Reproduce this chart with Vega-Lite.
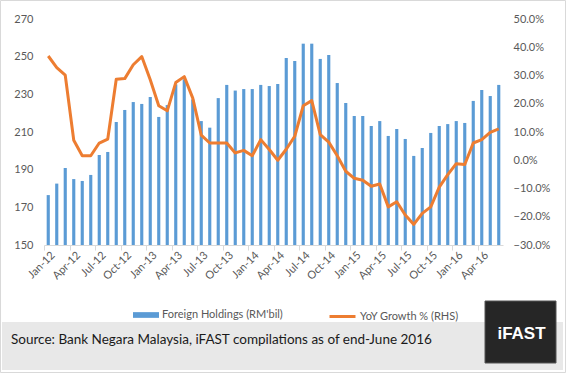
{
  "$schema": "https://vega.github.io/schema/vega-lite/v6.json",
  "width": 459,
  "height": 226,
  "autosize": {"type": "none"},
  "padding": {"left": 44, "top": 19, "right": 63, "bottom": 128},
  "background": "white",
  "config": {
    "view": {"stroke": null},
    "font": "Lato",
    "axis": {"grid": false, "labelColor": "#595959", "labelFontSize": 11, "labelFont": "Lato"},
    "legend": {"labelColor": "#595959", "labelFontSize": 11, "labelFont": "Lato", "padding": 0}
  },
  "datasets": {
    "series": [
      {"month": "Jan-12", "holdings": 176.5, "yoy": 36.9},
      {"month": "Feb-12", "holdings": 182.6, "yoy": 32.8},
      {"month": "Mar-12", "holdings": 190.9, "yoy": 30.1},
      {"month": "Apr-12", "holdings": 185.0, "yoy": 7.1},
      {"month": "May-12", "holdings": 184.0, "yoy": 1.6},
      {"month": "Jun-12", "holdings": 187.2, "yoy": 1.6},
      {"month": "Jul-12", "holdings": 197.8, "yoy": 6.1},
      {"month": "Aug-12", "holdings": 199.4, "yoy": 7.5},
      {"month": "Sep-12", "holdings": 215.3, "yoy": 28.7},
      {"month": "Oct-12", "holdings": 221.7, "yoy": 28.9},
      {"month": "Nov-12", "holdings": 225.9, "yoy": 33.8},
      {"month": "Dec-12", "holdings": 224.9, "yoy": 36.7},
      {"month": "Jan-13", "holdings": 228.6, "yoy": 28.5},
      {"month": "Feb-13", "holdings": 218.0, "yoy": 19.3},
      {"month": "Mar-13", "holdings": 224.3, "yoy": 17.5},
      {"month": "Apr-13", "holdings": 235.3, "yoy": 27.5},
      {"month": "May-13", "holdings": 238.0, "yoy": 29.6},
      {"month": "Jun-13", "holdings": 227.3, "yoy": 22.0},
      {"month": "Jul-13", "holdings": 215.8, "yoy": 8.9},
      {"month": "Aug-13", "holdings": 212.3, "yoy": 6.1},
      {"month": "Sep-13", "holdings": 228.0, "yoy": 6.1},
      {"month": "Oct-13", "holdings": 235.0, "yoy": 6.1},
      {"month": "Nov-13", "holdings": 232.0, "yoy": 2.6},
      {"month": "Dec-13", "holdings": 232.8, "yoy": 3.5},
      {"month": "Jan-14", "holdings": 232.8, "yoy": 1.6},
      {"month": "Feb-14", "holdings": 235.0, "yoy": 7.3},
      {"month": "Mar-14", "holdings": 234.4, "yoy": 3.8},
      {"month": "Apr-14", "holdings": 235.5, "yoy": 0.0},
      {"month": "May-14", "holdings": 249.3, "yoy": 3.9},
      {"month": "Jun-14", "holdings": 247.7, "yoy": 8.5},
      {"month": "Jul-14", "holdings": 256.9, "yoy": 19.3},
      {"month": "Aug-14", "holdings": 256.9, "yoy": 21.1},
      {"month": "Sep-14", "holdings": 248.8, "yoy": 9.1},
      {"month": "Oct-14", "holdings": 250.9, "yoy": 6.4},
      {"month": "Nov-14", "holdings": 236.0, "yoy": 1.6},
      {"month": "Dec-14", "holdings": 225.4, "yoy": -3.9},
      {"month": "Jan-15", "holdings": 218.5, "yoy": -6.4},
      {"month": "Feb-15", "holdings": 218.5, "yoy": -7.1},
      {"month": "Mar-15", "holdings": 213.2, "yoy": -9.2},
      {"month": "Apr-15", "holdings": 215.8, "yoy": -8.4},
      {"month": "May-15", "holdings": 207.9, "yoy": -16.5},
      {"month": "Jun-15", "holdings": 211.6, "yoy": -14.7},
      {"month": "Jul-15", "holdings": 206.3, "yoy": -19.4},
      {"month": "Aug-15", "holdings": 197.3, "yoy": -22.7},
      {"month": "Sep-15", "holdings": 201.5, "yoy": -18.8},
      {"month": "Oct-15", "holdings": 209.5, "yoy": -16.5},
      {"month": "Nov-15", "holdings": 213.2, "yoy": -9.5},
      {"month": "Dec-15", "holdings": 214.2, "yoy": -5.1},
      {"month": "Jan-16", "holdings": 215.8, "yoy": -1.2},
      {"month": "Feb-16", "holdings": 214.8, "yoy": -1.5},
      {"month": "Mar-16", "holdings": 226.5, "yoy": 6.1},
      {"month": "Apr-16", "holdings": 232.3, "yoy": 7.3},
      {"month": "May-16", "holdings": 229.1, "yoy": 9.9},
      {"month": "Jun-16", "holdings": 235.0, "yoy": 11.1}
    ]
  },
  "layer": [
    {
      "data": {"values": [{"part": "footer band"}]},
      "mark": {"type": "rect", "fill": "#e8e8e8"},
      "encoding": {"x": {"value": -42}, "x2": {"value": 519}, "y": {"value": 303}, "y2": {"value": 351}}
    },
    {
      "data": {"name": "series"},
      "encoding": {
        "x": {
          "field": "month", "type": "ordinal", "sort": null,
          "scale": {"paddingInner": 0.63, "paddingOuter": 0.315},
          "axis": {
            "title": null,
            "values": ["Jan-12","Apr-12","Jul-12","Oct-12","Jan-13","Apr-13","Jul-13","Oct-13","Jan-14","Apr-14","Jul-14","Oct-14","Jan-15","Apr-15","Jul-15","Oct-15","Jan-16","Apr-16"],
            "tickOffset": -4.25, "labelOffset": 4.75,
            "labelAngle": -45, "tickSize": 5, "tickColor": "#d9d9d9", "domainColor": "#d9d9d9",
            "labelPadding": -1, "labelOverlap": false, "labelBound": false
          }
        }
      },
      "layer": [
        {
          "mark": {"type": "bar"},
          "encoding": {
            "y": {
              "field": "holdings", "type": "quantitative",
              "scale": {"domain": [150, 270], "nice": false, "zero": false},
              "axis": {"title": null, "values": [150,170,190,210,230,250,270], "ticks": false, "domain": false, "labelPadding": 11}
            },
            "y2": {"datum": 150},
            "fill": {
              "datum": "Foreign Holdings (RM'bil)", "type": "nominal",
              "scale": {"range": ["#5b9bd5"]},
              "legend": {"title": null, "orient": "none", "legendX": 89, "legendY": 283, "direction": "horizontal",
                "symbolType": "M-1,-0.22H1V0.22H-1Z", "symbolSize": 676, "symbolStrokeWidth": 0, "labelOffset": 3}
            }
          }
        },
        {
          "mark": {"type": "line", "strokeWidth": 3, "strokeJoin": "round"},
          "encoding": {
            "y": {
              "field": "yoy", "type": "quantitative",
              "scale": {"domain": [-30, 50], "nice": false, "zero": false},
              "axis": {"title": null, "orient": "right", "values": [-30,-20,-10,0,10,20,30,40,50],
                "labelExpr": "format(datum.value, '.1f') + '%'", "ticks": false, "domain": false, "labelPadding": 10}
            },
            "stroke": {
              "datum": "YoY Growth % (RHS)", "type": "nominal",
              "scale": {"range": ["#ed7d31"]},
              "legend": {"title": null, "orient": "none", "legendX": 284, "legendY": 283, "direction": "horizontal",
                "symbolType": "stroke", "symbolSize": 676, "symbolStrokeWidth": 3, "labelOffset": 3}
            }
          }
        }
      ],
      "resolve": {"scale": {"y": "independent"}}
    },
    {
      "data": {"values": [{"part": "logo box"}]},
      "mark": {"type": "rect", "fill": "#262626", "stroke": "#555555", "strokeWidth": 1},
      "encoding": {"x": {"value": 441}, "x2": {"value": 512}, "y": {"value": 282}, "y2": {"value": 344}}
    },
    {
      "data": {"values": [{"logo": "iFAST"}]},
      "mark": {"type": "text", "align": "center", "baseline": "middle", "font": "Liberation Sans", "fontWeight": "bold", "fontSize": 17, "fill": "white"},
      "encoding": {"text": {"field": "logo"}, "x": {"value": 477.5}, "y": {"value": 315}}
    },
    {
      "data": {"values": [{"source": "Source: Bank Negara Malaysia, iFAST compilations as of end-June 2016"}]},
      "mark": {"type": "text", "align": "left", "baseline": "alphabetic", "font": "Lato", "fontSize": 13.5, "fill": "#1a1a1a"},
      "encoding": {"text": {"field": "source"}, "x": {"value": -33}, "y": {"value": 325}}
    },
    {
      "data": {"values": [{"part": "border"}]},
      "mark": {"type": "rect", "fill": null, "stroke": "#d9d9d9", "strokeWidth": 1},
      "encoding": {"x": {"value": -43.5}, "x2": {"value": 521.5}, "y": {"value": -18.5}, "y2": {"value": 353.5}}
    }
  ]
}
